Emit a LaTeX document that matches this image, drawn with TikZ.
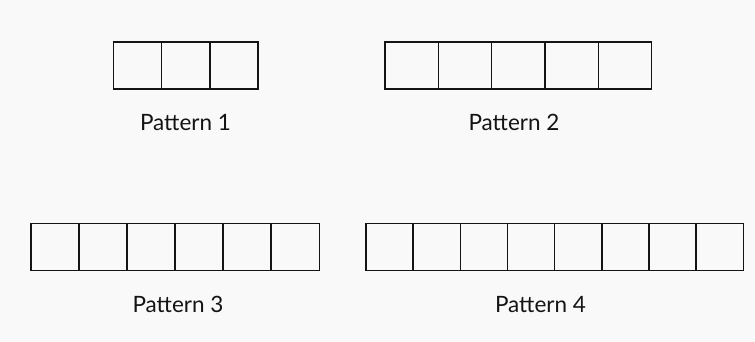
\documentclass[tikz,border=0pt]{standalone}
\usepackage{fontspec}
\setmainfont{Lato}
\definecolor{bgc}{RGB}{249,249,249}
\definecolor{ln}{RGB}{20,20,20}
\tikzset{
  cell/.style={draw=ln, line width=1.6pt, minimum height=47pt, inner sep=0pt, outer sep=0pt, anchor=north west},
  lbl/.style={font=\fontsize{22.5}{25}\selectfont, text=ln, anchor=base, inner sep=0pt}
}
\begin{document}
\begin{tikzpicture}[x=1pt,y=-1pt]
\fill[bgc] (0,0) rectangle (755,342);
\useasboundingbox (0,0) rectangle (755,342);
\foreach \i in {0,1,2} \node[cell, minimum width=48.33pt] (a\i) at (113.3+\i*48.33, 42.3) {};
\foreach \i in {0,...,4} \node[cell, minimum width=53.33pt] (b\i) at (385+\i*53.33, 42.3) {};
\foreach \i in {0,...,5} \node[cell, minimum width=48.05pt] (c\i) at (31+\i*48.05, 223.3) {};
\foreach \i in {0,...,7} \node[cell, minimum width=47.17pt] (d\i) at (366+\i*47.17, 223.3) {};
\node[lbl] (la) at (185.5,130.5) {Pattern 1};
\node[lbl] (lb) at (514,130.5) {Pattern 2};
\node[lbl] (lc) at (178,312) {Pattern 3};
\node[lbl] (ld) at (540.5,312) {Pattern 4};
\end{tikzpicture}
\end{document}
